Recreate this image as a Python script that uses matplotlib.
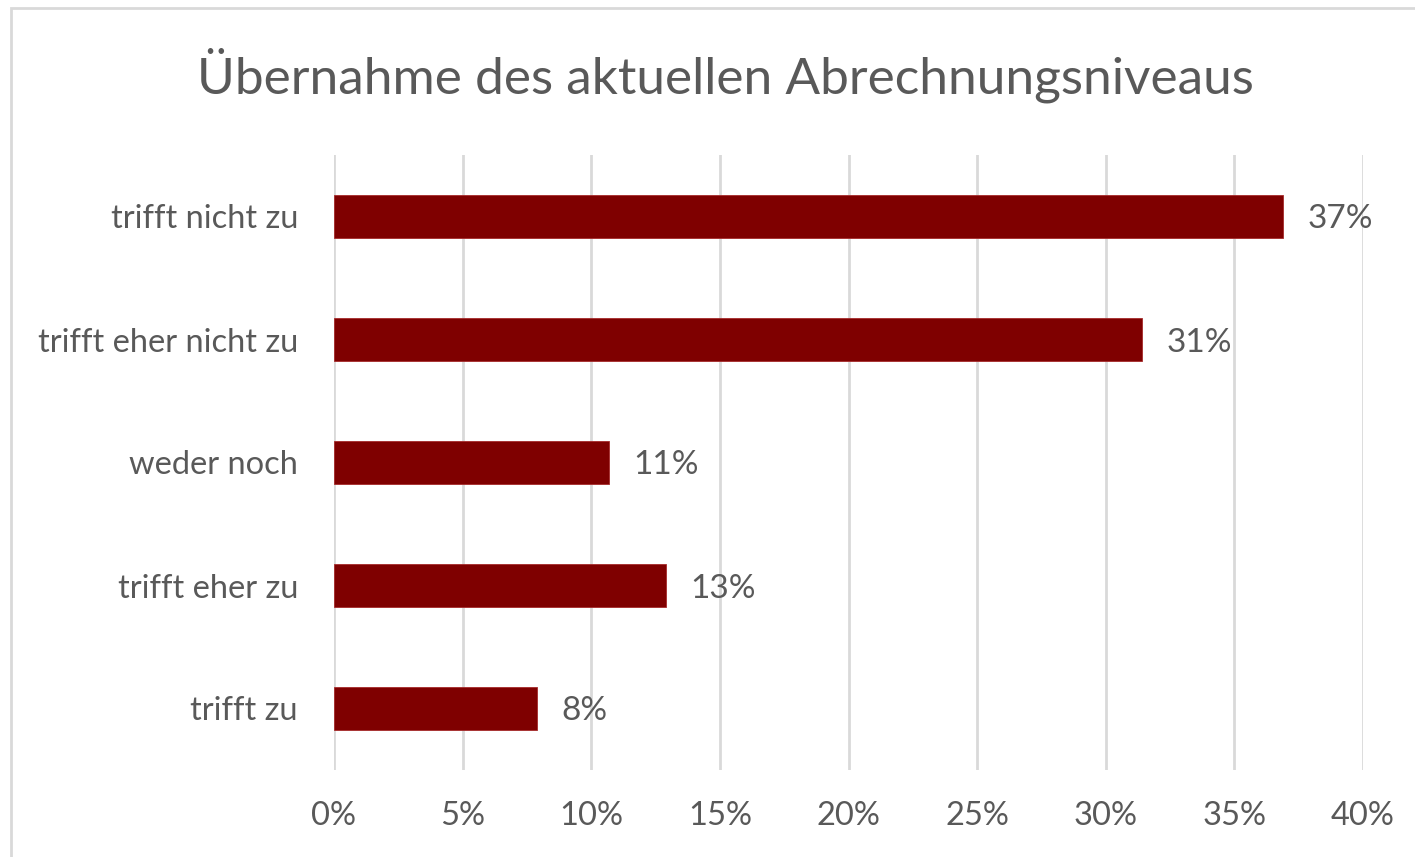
# Horizontal bar chart: Übernahme des aktuellen Abrechnungsniveaus
import matplotlib.pyplot as plt
from matplotlib.patches import Rectangle
from matplotlib.ticker import FuncFormatter

categories = ['trifft nicht zu', 'trifft eher nicht zu', 'weder noch',
              'trifft eher zu', 'trifft zu']
shares = [36.9, 31.4, 10.7, 12.9, 7.9]
x_ticks = [0, 5, 10, 15, 20, 25, 30, 35, 40]

text_color = '#595959'
grid_color = '#D9D9D9'
bar_color = '#7F0000'

plt.rcParams['font.family'] = ['Lato', 'DejaVu Sans']

W, H = 1415, 857
fig = plt.figure(figsize=(W / 100, H / 100), dpi=100)
ax = fig.add_axes([334 / W, 1 - 770 / H, (1363 - 334) / W, (770 - 155) / H])

# Chart border (left and top only visible in the reference crop)
fig.patches.append(Rectangle((11 / W, -0.1), 2, 1 - 8 / H + 0.1,
                             transform=fig.transFigure, fill=False,
                             edgecolor=grid_color, linewidth=2))

ypos = list(range(len(categories)))
ax.barh(ypos, shares, height=0.35, color=bar_color,
        edgecolor='#A52A2A', linewidth=0.6, zorder=3)

for y, v in zip(ypos, shares):
    ax.text(v + 0.95, y, f'{round(v):d}%', va='center_baseline', ha='left',
            fontsize=24, color=text_color)

ax.set_xlim(0, 40)
ax.set_ylim(len(categories) - 0.5, -0.5)
ax.set_xticks(x_ticks)
ax.xaxis.set_major_formatter(FuncFormatter(lambda v, p: f'{v:.0f}%'))
ax.set_yticks(ypos)
ax.set_yticklabels(categories, va='center_baseline')

ax.grid(axis='x', color=grid_color, linewidth=2, zorder=0)
for s in ax.spines.values():
    s.set_visible(False)
ax.tick_params(axis='both', length=0, labelsize=23.5, labelcolor=text_color)
ax.tick_params(axis='x', pad=22)
ax.tick_params(axis='y', pad=26)

fig.text(725 / W, 1 - 75 / H, 'Übernahme des aktuellen Abrechnungsniveaus',
         ha='center', va='center', fontsize=37, color=text_color)

fig.savefig('out.png', dpi=100, facecolor='white')
